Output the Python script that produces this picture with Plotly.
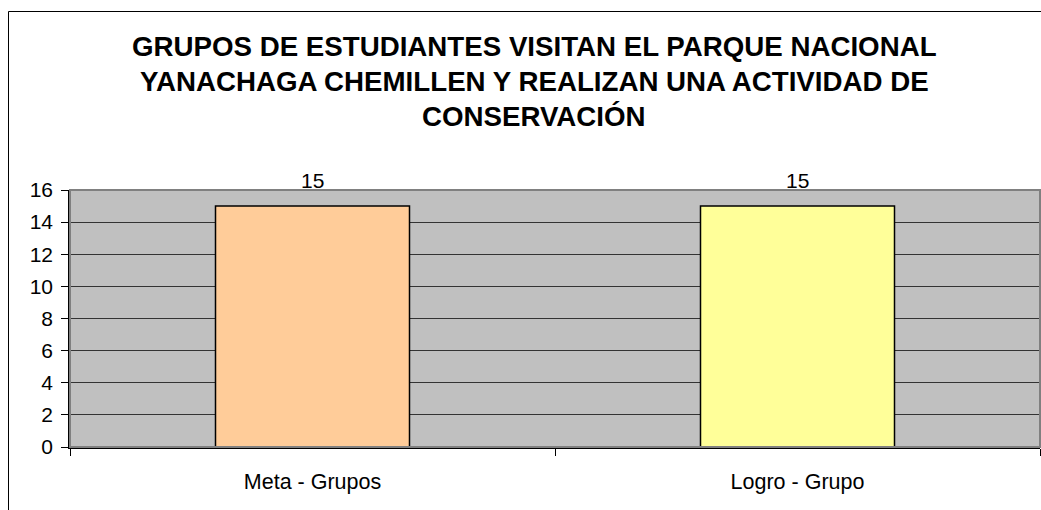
import plotly.graph_objects as go

CATEGORIES = ["Meta - Grupos", "Logro - Grupo"]
VALUES = [15, 15]
TITLE_LINES = [
    "GRUPOS DE ESTUDIANTES VISITAN EL PARQUE NACIONAL",
    "YANACHAGA CHEMILLEN Y REALIZAN UNA ACTIVIDAD DE",
    "CONSERVACIÓN",
]

BAR_COLORS = ["#FFCC99", "#FFFF99"]
FONT = "Liberation Sans, Arial, sans-serif"

W, H = 1041, 510
PLOT_LEFT, PLOT_RIGHT, PLOT_TOP, PLOT_BOTTOM = 70, 1040, 190, 447
L = PLOT_LEFT
T = PLOT_TOP
R = W - PLOT_RIGHT
B = H - PLOT_BOTTOM
PLOT_H = PLOT_BOTTOM - PLOT_TOP
PLOT_W = PLOT_RIGHT - PLOT_LEFT


def py_to_paper(py):
    return (PLOT_BOTTOM - py) / PLOT_H


def px_to_paper(px):
    return (px - PLOT_LEFT) / PLOT_W


fig = go.Figure(
    go.Bar(
        x=CATEGORIES,
        y=VALUES,
        marker={"color": BAR_COLORS, "line": {"color": "#000000", "width": 1.5}},
        hoverinfo="skip",
    )
)

annotations = []
for i, line in enumerate(TITLE_LINES):
    annotations.append(
        {
            "text": "<b>" + line + "</b>",
            "xref": "paper",
            "yref": "paper",
            "x": px_to_paper(534),
            "y": py_to_paper(46 + i * 35.5),
            "xanchor": "center",
            "yanchor": "middle",
            "showarrow": False,
            "font": {"family": FONT, "size": 27.7, "color": "#000000"},
        }
    )
for cat, val in zip(CATEGORIES, VALUES):
    annotations.append(
        {
            "text": str(val),
            "x": cat,
            "y": val,
            "xref": "x",
            "yref": "y",
            "yanchor": "bottom",
            "yshift": 12,
            "showarrow": False,
            "font": {"family": FONT, "size": 21, "color": "#000000"},
        }
    )

shapes = [
    # outer chart frame (cropped on the right and bottom)
    {
        "type": "rect",
        "xref": "paper",
        "yref": "paper",
        "x0": px_to_paper(8.5),
        "x1": px_to_paper(W + 40),
        "y0": py_to_paper(H + 40),
        "y1": py_to_paper(11.5),
        "line": {"color": "#000000", "width": 1},
        "layer": "above",
    },
    # plot area border (grey)
    {
        "type": "rect",
        "xref": "paper",
        "yref": "paper",
        "x0": 0,
        "x1": 1,
        "y0": 0,
        "y1": 1,
        "line": {"color": "#808080", "width": 2},
        "layer": "above",
    },
]

fig.update_layout(
    width=W,
    height=H,
    margin={"l": L, "r": R, "t": T, "b": B, "pad": 0},
    paper_bgcolor="#FFFFFF",
    plot_bgcolor="#C0C0C0",
    bargap=0.6,
    showlegend=False,
    font={"family": FONT, "size": 21, "color": "#000000"},
    annotations=annotations,
    shapes=shapes,
)
fig.update_xaxes(
    type="category",
    showgrid=False,
    showline=True,
    linecolor="#000000",
    linewidth=1.5,
    ticks="outside",
    tickson="boundaries",
    ticklen=7,
    tickcolor="#000000",
    ticklabelstandoff=14,
    tickfont={"family": FONT, "size": 21.5},
)
fig.update_yaxes(
    range=[0, 16],
    dtick=2,
    showgrid=True,
    gridcolor="#333333",
    gridwidth=1,
    showline=True,
    linecolor="#000000",
    linewidth=1.5,
    ticks="outside",
    ticklen=7,
    tickcolor="#000000",
    ticklabelstandoff=4,
    tickfont={"family": FONT, "size": 21},
    zeroline=False,
)

# drop the default body margin so the figure fills the window exactly
fig.write_html(
    "out.html",
    config={"displayModeBar": False},
    post_script="document.body.style.margin='0';document.body.style.overflow='hidden';",
)
